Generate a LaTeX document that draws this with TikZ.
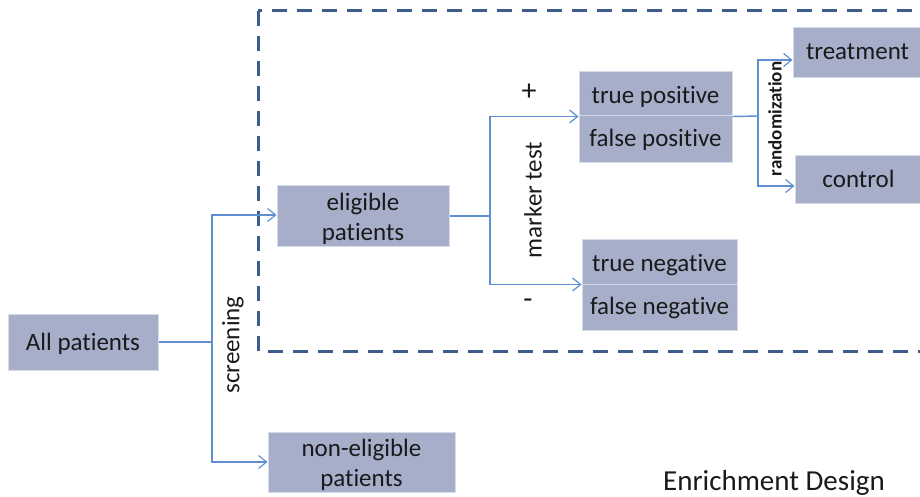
\documentclass[tikz,border=0pt]{standalone}
\usepackage{fontspec}
\setmainfont{Carlito}[Ligatures=NoCommon]
\usetikzlibrary{arrows.meta}
\definecolor{boxfill}{HTML}{A6AECA}
\definecolor{conncol}{HTML}{5F8FD2}
\definecolor{dashcol}{HTML}{3D5E8C}
\definecolor{txtcol}{HTML}{1A1A1A}
\tikzset{
  boxn/.style={rectangle, fill=boxfill, draw=white!55!boxfill, line width=1pt, inner sep=0pt, align=center, text=txtcol, font=\fontsize{25}{30}\selectfont},
  boxtxt/.style={inner sep=0pt, align=center, text=txtcol, font=\fontsize{25}{30}\selectfont},
  conn/.style={draw=conncol, line width=1.4pt},
  arr/.style={conn, -{Straight Barb[length=8pt,width=13pt,line width=1.2pt]}},
  lbl/.style={text=txtcol, inner sep=0pt, font=\fontsize{25}{30}\selectfont},
}
\begin{document}
\begin{tikzpicture}[x=1pt,y=-1pt]
\path[use as bounding box] (0,0) rectangle (920,497);
\clip (0,0) rectangle (920,497);
% dashed enrichment region
\draw[dashcol, line width=3pt, dash pattern=on 15pt off 10pt] (258,11) rectangle (945,351);
% nodes
\node[boxn, minimum width=150pt, minimum height=56pt, text height=20pt, text depth=4pt] (all) at (83,342) {All patients};
\node[boxn, minimum width=172pt, minimum height=60pt] (elig) at (363,216) {};
\node[boxtxt] (eligt) at (363,219) {eligible\\patients};
\node[boxn, minimum width=187pt, minimum height=60pt] (nonel) at (361.5,462) {};
\node[boxtxt] (nonelt) at (361.5,464.5) {non-eligible\\patients};
\node[boxn, minimum width=153pt, minimum height=44pt, text height=22pt, text depth=2pt] (tp) at (655.5,94) {true positive};
\node[boxn, minimum width=153pt, minimum height=47pt, text height=19.5pt, text depth=4.5pt] (fp) at (655.5,139.5) {false positive};
\node[boxn, minimum width=155pt, minimum height=45pt, text height=21.5pt, text depth=2.5pt] (tn) at (659.5,261.5) {true negative};
\node[boxn, minimum width=155pt, minimum height=46pt, text height=19pt, text depth=5pt] (fn) at (659.5,307) {false negative};
\node[boxn, minimum width=129pt, minimum height=50pt, text height=19pt, text depth=5pt] (treat) at (857.5,53) {treatment};
\node[boxn, minimum width=127pt, minimum height=47pt, text height=20.5pt, text depth=3.5pt] (ctrl) at (858.5,179.5) {control};
% connectors
\coordinate (s) at (212,342);
\draw[conn] (all.east) -- (s);
\draw[arr] (s) |- ([yshift=1pt]elig.west);
\draw[arr] (s) |- (nonel.west);
\coordinate (m) at (490,216);
\draw[conn] (elig.east) -- (m);
\draw[arr] (m) |- (tp.south west);
\draw[arr] (m) |- (tn.south west);
\coordinate (r) at (758,116);
\draw[conn] (tp.south east) -- (r);
\draw[arr] (r) |- ([yshift=-7pt]treat.west);
\draw[arr] (r) |- ([yshift=-6.5pt]ctrl.west);
% labels
\node[lbl, rotate=90] (lscr) at (233,345) {screening};
\node[lbl, rotate=90] (lmark) at (533,200) {marker test};
\node[lbl, font=\fontsize{30}{34}\selectfont] (lplus) at (529,92) {+};
\node[lbl, font=\fontsize{30}{34}\selectfont] (lminus) at (528,304) {-};
\node[text=txtcol, inner sep=0pt, rotate=90, font=\fontsize{19}{22}\selectfont\bfseries] (lrand) at (775,119) {randomization};
\node[text=txtcol, inner sep=0pt, anchor=base, font=\fontsize{29}{34}\selectfont] (ltitle) at (774,490) {Enrichment Design};
\end{tikzpicture}
\end{document}
